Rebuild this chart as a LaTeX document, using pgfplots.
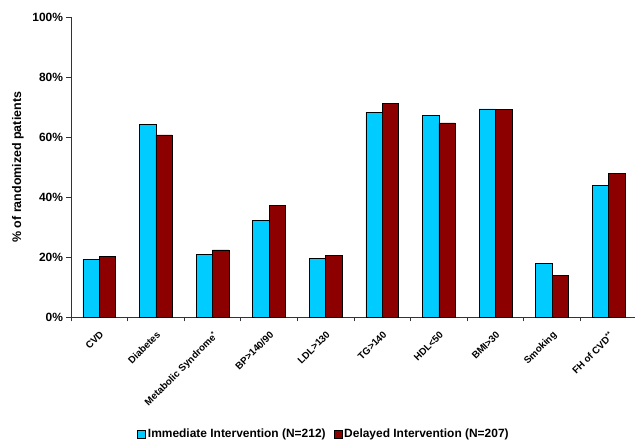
\documentclass[border=0pt]{standalone}
\usepackage{fontspec}
\setmainfont{Liberation Sans}
\usepackage{pgfplots}
\pgfplotsset{compat=1.18}
\definecolor{immc}{HTML}{00CCFF}
\definecolor{delc}{HTML}{8C0000}
\begin{document}
\begin{tikzpicture}
\begin{axis}[
  at={(0,0)}, anchor=south west,
  scale only axis,
  width=566bp, height=300bp,
  xmin=-0.5, xmax=9.5,
  ymin=0, ymax=100,
  axis lines=left,
  axis line style={-, line width=0.8pt, black!80},
  ytick={0,20,40,60,80,100},
  yticklabel={\pgfmathprintnumber{\tick}\%},
  yticklabel style={font=\fontsize{12}{14}\selectfont\bfseries, /pgf/number format/assume math mode=true},
  xtick={0,...,9},
  xticklabels={CVD,Diabetes,Metabolic Syndrome\textsuperscript{*},BP>140/90,LDL>130,TG>140,HDL<50,BMI>30,Smoking,FH of CVD\textsuperscript{**}},
  xticklabel style={rotate=45, anchor=north east, font=\fontsize{9.8}{11}\selectfont\bfseries, inner sep=1pt, yshift=-5bp, xshift=-5bp},
  major x tick style={draw=none},
  minor xtick={-0.5,0.5,...,9.5},
  tick align=outside,
  tick pos=left,
  major tick length=4.5bp,
  minor tick length=4bp,
  tick style={black!80, line width=0.8pt},
  minor tick style={black!80, line width=0.8pt},
  ylabel={\% of randomized patients},
  ylabel style={at={(axis description cs:-0.0936,0.5)}, anchor=center, font=\fontsize{12.5}{14}\selectfont\bfseries},
  ybar, bar width=0.288,
  legend columns=2,
  legend style={at={(axis description cs:0.447,-0.389)}, anchor=center, draw=none, fill=none,
    font=\fontsize{12}{14}\selectfont\bfseries, inner sep=0pt,
    /tikz/every even column/.append style={column sep=6bp}},
  legend image code/.code={\draw[#1, draw=black, line width=0.6pt] (0bp,-4bp) rectangle (8bp,4bp);},
]
\addplot[fill=immc, draw=black, line width=0.6pt, bar shift=-0.144] coordinates {
(0,19.3) (1,64.3) (2,20.9) (3,32.2) (4,19.7) (5,68.3) (6,67.3) (7,69.5) (8,18.1) (9,44.0)};
\addplot[fill=delc, draw=black, line width=0.6pt, bar shift=0.144] coordinates {
(0,20.3) (1,60.8) (2,22.5) (3,37.2) (4,20.7) (5,71.4) (6,64.8) (7,69.3) (8,13.9) (9,47.9)};
\legend{Immediate Intervention (N=212), Delayed Intervention (N=207)}
\end{axis}
\pgfresetboundingbox
\useasboundingbox (-71bp,-122.7bp) rectangle (564bp,317.3bp);
\end{tikzpicture}
\end{document}
